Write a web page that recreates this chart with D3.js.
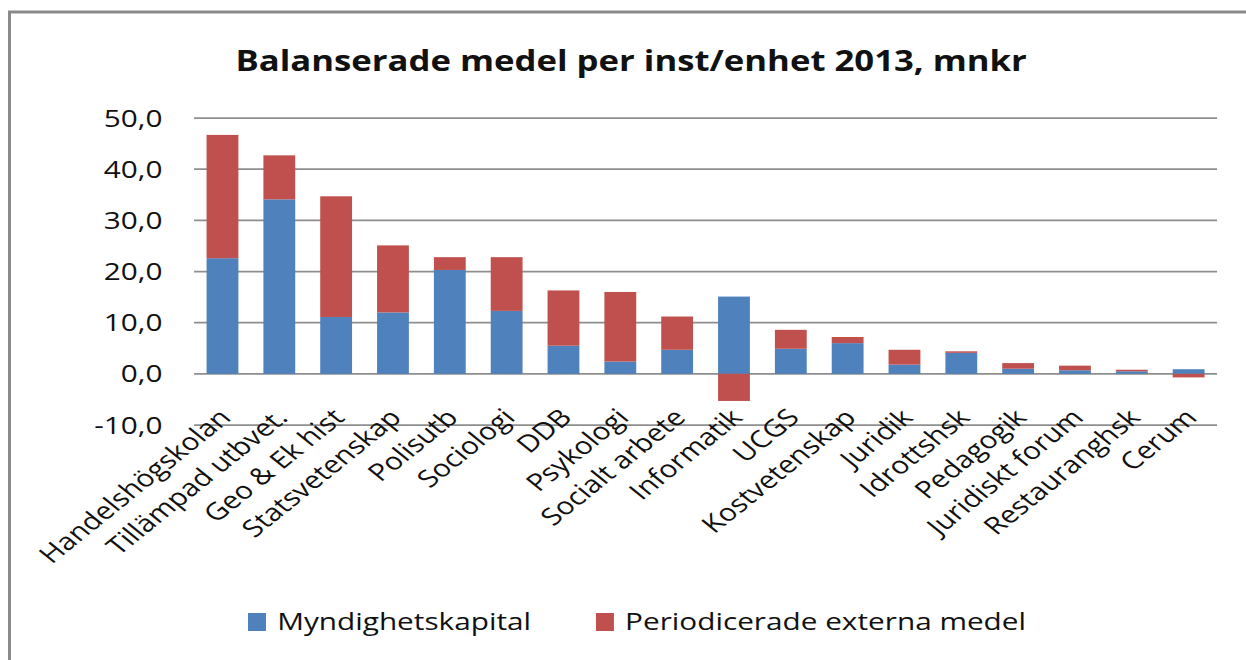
<!DOCTYPE html>
<html>
<head>
<meta charset="utf-8">
<script src="https://cdn.jsdelivr.net/npm/d3@7"></script>
<style>
  body { margin: 0; background: #fff; }
  text { font-family: "Open Sans", sans-serif; fill: #111; }
</style>
</head>
<body>
<div id="chart"></div>
<script>
const categories = ["Handelshögskolan", "Tillämpad utbvet.", "Geo & Ek hist", "Statsvetenskap",
    "Polisutb", "Sociologi", "DDB", "Psykologi", "Socialt arbete", "Informatik", "UCGS",
    "Kostvetenskap", "Juridik", "Idrottshsk", "Pedagogik", "Juridiskt forum", "Restauranghsk", "Cerum"];
const myndighetskapital = [22.6, 34.1, 11.1, 12.0, 20.3, 12.3, 5.5, 2.4, 4.7, 15.1, 4.9, 6.0, 1.8, 4.1, 1.0, 0.7, 0.5, 0.9];
const periodicerade = [24.1, 8.6, 23.6, 13.1, 2.5, 10.5, 10.8, 13.6, 6.5, -5.3, 3.7, 1.2, 2.9, 0.3, 1.1, 0.9, 0.3, -0.7];
const seriesNames = ["Myndighetskapital", "Periodicerade externa medel"];
const colors = ["#4F81BD", "#C0504D"];
const yTicks = [-10, 0, 10, 20, 30, 40, 50];

const width = 1246, height = 660;
const sx = 1.24;                 // the picture is stretched sideways
const w = width / sx;
const margin = { top: 118, right: w - 981.5, bottom: height - 425, left: 156.5 };

const data = categories.map((c, i) => ({
    cat: c,
    [seriesNames[0]]: myndighetskapital[i],
    [seriesNames[1]]: periodicerade[i]
}));

const stacked = d3.stack()
    .keys(seriesNames)
    .offset(d3.stackOffsetDiverging)(data);

const svg = d3.select("#chart")
    .append("svg")
    .attr("width", width)
    .attr("height", height);

svg.append("rect")
    .attr("width", width).attr("height", height)
    .attr("fill", "#fff");

// outer frame
svg.append("rect")
    .attr("x", 9.5).attr("y", 12)
    .attr("width", width).attr("height", height)
    .attr("fill", "none")
    .attr("stroke", "#8a8a8a")
    .attr("stroke-width", 3);

const g = svg.append("g")
    .attr("transform", `scale(${sx},1)`);

const x = d3.scaleBand()
    .domain(categories)
    .range([margin.left, w - margin.right])
    .paddingInner(0.44)
    .paddingOuter(0.22);

const y = d3.scaleLinear()
    .domain([-10, 50])
    .range([height - margin.bottom, margin.top]);

// grid lines + y labels
const fmt = v => d3.format(".1f")(v).replace(".", ",").replace("−", "-");

g.append("g")
    .selectAll("line")
    .data(yTicks)
    .join("line")
    .attr("x1", margin.left)
    .attr("x2", w - margin.right)
    .attr("y1", d => y(d))
    .attr("y2", d => y(d))
    .attr("stroke", "#8e8e8e")
    .attr("stroke-width", 1.75);

g.append("g")
    .selectAll("text")
    .data(yTicks)
    .join("text")
    .attr("x", 131)
    .attr("y", d => y(d))
    .attr("dy", "0.36em")
    .attr("text-anchor", "end")
    .style("font-size", "24px")
    .text(fmt);

// bars
g.append("g")
    .selectAll("g")
    .data(stacked)
    .join("g")
    .attr("fill", (d, i) => colors[i])
    .selectAll("rect")
    .data(d => d)
    .join("rect")
    .attr("x", d => x(d.data.cat))
    .attr("width", x.bandwidth())
    .attr("y", d => y(Math.max(d[0], d[1])))
    .attr("height", d => Math.abs(y(d[0]) - y(d[1])));

// category labels
g.append("g")
    .selectAll("text")
    .data(categories)
    .join("text")
    .attr("text-anchor", "end")
    .attr("transform", d => `translate(${x(d) + x.bandwidth() / 2 + 8},${419}) rotate(-45)`)
    .style("font-size", "24px")
    .text(d => d);

// title
g.append("text")
    .attr("x", 509)
    .attr("y", 71)
    .attr("text-anchor", "middle")
    .style("font-size", "28px")
    .style("font-weight", "bold")
    .text("Balanserade medel per inst/enhet 2013, mnkr");

// legend
const legendX = [200, 480.6];
const legend = g.append("g")
    .selectAll("g")
    .data(seriesNames)
    .join("g")
    .attr("transform", (d, i) => `translate(${legendX[i]},613)`);

legend.append("rect")
    .attr("width", 14.5)
    .attr("height", 18)
    .attr("fill", (d, i) => colors[i]);

legend.append("text")
    .attr("x", 23.5)
    .attr("y", 17)
    .style("font-size", "24px")
    .text(d => d);
</script>
</body>
</html>
